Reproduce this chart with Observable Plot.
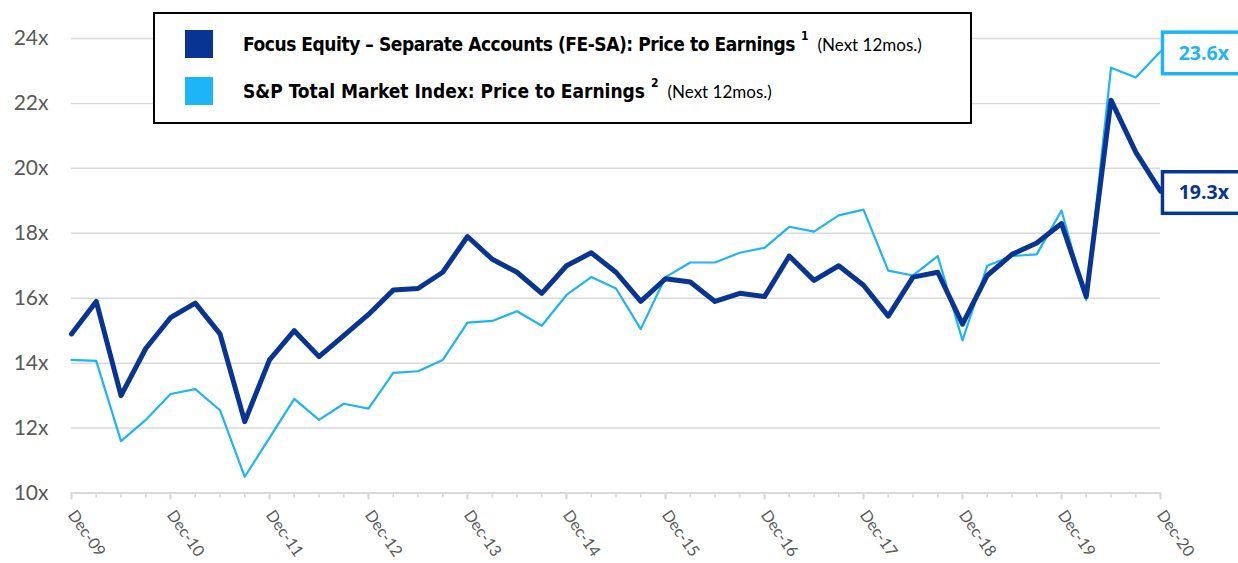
<!DOCTYPE html>
<html>
<head>
<meta charset="utf-8">
<script src="https://cdn.jsdelivr.net/npm/d3@7"></script>
<script src="https://cdn.jsdelivr.net/npm/@observablehq/plot@0.6"></script>
<style>
  html, body { margin: 0; padding: 0; background: #fff; }
  #wrap { position: relative; width: 1238px; height: 563px; overflow: hidden; }
  #legend {
    position: absolute; left: 153px; top: 12px; width: 815px; height: 108px;
    border: 2px solid #000; background: #fff; box-sizing: content-box;
  }
  .row { position: absolute; left: 30px; height: 28px; display: flex; align-items: center; white-space: nowrap; }
  .sw { width: 28px; height: 28px; margin-right: 30px; flex: none; }
  .main { font-family: "DejaVu Sans Condensed", "Liberation Sans Narrow", sans-serif; font-stretch: condensed; font-weight: bold; font-size: 19px; color: #000; }
  .sup { font-family: "DejaVu Sans Condensed", sans-serif; font-weight: bold; font-size: 12px; position: relative; top: -8px; margin-left: 6px; margin-right: 9px; }
  .note { font-family: Lato, sans-serif; font-size: 17px; color: #000; }
</style>
</head>
<body>
<div id="wrap">
  <div id="legend"></div>
</div>
<script>
// ---- data ----
const yearLabels = ["Dec-09","Dec-10","Dec-11","Dec-12","Dec-13","Dec-14","Dec-15","Dec-16","Dec-17","Dec-18","Dec-19","Dec-20"];
const fesa = [14.9,15.9,13.0,14.45,15.4,15.85,14.9,12.2,14.1,15.0,14.2,14.85,15.5,16.25,16.3,16.8,17.9,17.2,16.8,16.15,17.0,17.4,16.8,15.9,16.6,16.5,15.9,16.15,16.05,17.3,16.55,17.0,16.4,15.45,16.65,16.8,15.2,16.7,17.35,17.7,18.3,16.05,22.1,20.5,19.3];
const sp = [14.1,14.07,11.6,12.25,13.05,13.2,12.55,10.5,11.7,12.9,12.25,12.75,12.6,13.7,13.75,14.1,15.25,15.3,15.6,15.15,16.1,16.65,16.3,15.05,16.65,17.1,17.1,17.4,17.55,18.2,18.05,18.55,18.73,16.85,16.7,17.3,14.7,17.0,17.3,17.35,18.7,15.95,23.1,22.8,23.6];
const yTicks = [10,12,14,16,18,20,22,24];
const seriesNames = ["Focus Equity – Separate Accounts (FE-SA): Price to Earnings", "S&P Total Market Index: Price to Earnings"];
const seriesNotes = ["(Next 12mos.)", "(Next 12mos.)"];
const seriesSup = ["1", "2"];
const colors = ["#083594", "#1db4f8"];

const fesaData = fesa.map((v, i) => ({i, v}));
const spData = sp.map((v, i) => ({i, v}));
const last = fesa.length - 1;
const endLabels = [
  {i: last, v: sp[last], c: colors[1]},
  {i: last, v: fesa[last], c: colors[0]}
];
const majorIdx = yearLabels.map((_, k) => k * 4);
const minorIdx = fesa.map((_, i) => i);

const chart = Plot.plot({
  width: 1238,
  height: 563,
  marginLeft: 71,
  marginRight: 78,
  marginTop: 38,
  marginBottom: 70.5,
  style: {fontFamily: "Lato, sans-serif", background: "#fff", overflow: "hidden"},
  x: {type: "linear", domain: [0, last]},
  y: {domain: [10, 24]},
  marks: [
    Plot.gridY(yTicks.filter(d => d > 10), {stroke: "#d9d9d9", strokeOpacity: 1, strokeWidth: 1.5}),
    Plot.ruleY([10], {stroke: "#d9d9d9", strokeWidth: 2}),
    Plot.axisY({ticks: yTicks, tickFormat: d => d + "x", tickSize: 0, tickPadding: 23, fontSize: 21, fill: "#595959", label: null}),
    Plot.axisX({ticks: minorIdx, tickFormat: () => "", tickSize: 5, stroke: "#d9d9d9", strokeWidth: 1.5, label: null}),
    Plot.axisX({ticks: majorIdx, tickFormat: () => "", tickSize: 7, stroke: "#d9d9d9", strokeWidth: 2, label: null}),
    Plot.axisX({ticks: majorIdx, tickFormat: d => yearLabels[d / 4], tickSize: 0, tickPadding: 19, tickRotate: 55, fontSize: 16, fill: "#595959", label: null}),
    Plot.line(spData, {x: "i", y: "v", stroke: colors[1], strokeWidth: 2.2, strokeLinejoin: "round"}),
    Plot.line(fesaData, {x: "i", y: "v", stroke: colors[0], strokeWidth: 5, strokeLinejoin: "round"}),
    Plot.rect(endLabels, {x1: d => d.i + 0.1, x2: d => d.i + 3.6, y1: d => d.v - 0.7, y2: d => d.v + 0.58, fill: "#fff", stroke: d => d.c, strokeWidth: 3.5, clip: false}),
    Plot.text(endLabels, {x: d => d.i + 1.75, y: "v", dy: 2, text: d => d.v.toFixed(1) + "x", fill: d => d.c, fontSize: 19.5, fontWeight: "bold", fontFamily: "Open Sans, sans-serif"})
  ]
});
document.getElementById("wrap").insertBefore(chart, document.getElementById("legend"));
chart.style.position = "absolute";
chart.style.left = "0";
chart.style.top = "0";

const legend = document.getElementById("legend");
const rowTops = [16, 63];
const targetWidths = [552, 402];
seriesNames.forEach((name, k) => {
  const row = document.createElement("div");
  row.className = "row";
  row.style.top = rowTops[k] + "px";
  const sw = document.createElement("div");
  sw.className = "sw"; sw.style.background = colors[k];
  const main = document.createElement("span");
  main.className = "main"; main.textContent = name;
  const sup = document.createElement("span");
  sup.className = "sup"; sup.textContent = seriesSup[k];
  const note = document.createElement("span");
  note.className = "note"; note.textContent = seriesNotes[k];
  row.append(sw, main, sup, note);
  legend.appendChild(row);
  // fit main text width to the reference via letter spacing
  const w = main.getBoundingClientRect().width;
  const n = name.length;
  main.style.letterSpacing = ((targetWidths[k] - w) / n) + "px";
});
</script>
</body>
</html>
